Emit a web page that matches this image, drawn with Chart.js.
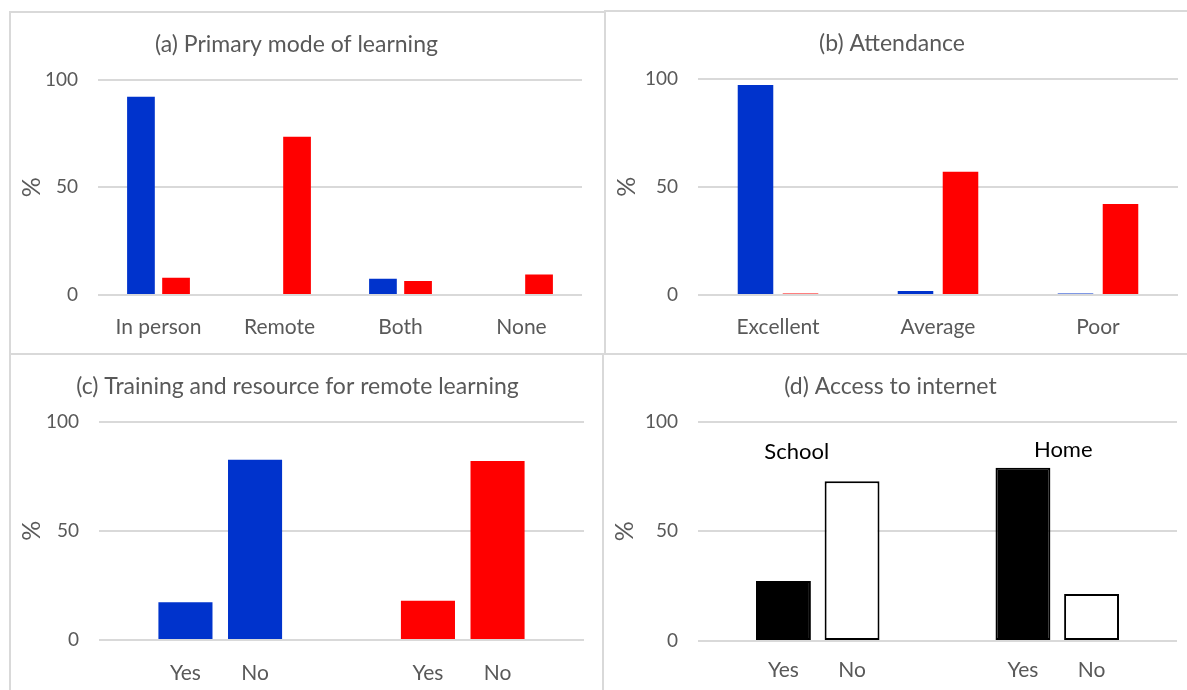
<!DOCTYPE html>
<html>
<head>
<meta charset="utf-8">
<script src="https://cdn.jsdelivr.net/npm/chart.js"></script>
<style>
  html, body { margin: 0; padding: 0; background: #ffffff; }
  body { width: 1187px; height: 690px; overflow: hidden; position: relative; }
  .panel { position: absolute; border-left: 2px solid #d9d9d9; border-top: 2px solid #d9d9d9; }
  .panel canvas { display: block; }
</style>
</head>
<body>
<div class="panel" style="left:9px; top:11px;"><canvas id="chartA" width="594" height="340"></canvas></div>
<div class="panel" style="left:604px; top:10px;"><canvas id="chartB" width="594" height="341"></canvas></div>
<div class="panel" style="left:9px; top:353px;"><canvas id="chartC" width="592" height="335"></canvas></div>
<div class="panel" style="left:602px; top:353px;"><canvas id="chartD" width="596" height="335"></canvas></div>

<script>
'use strict';

// ********** DATA **********

const yTicks = [0, 50, 100];

// (a) primary mode of learning
const modeLabels = ['In person', 'Remote', 'Both', 'None'];
const modeBlue = [92, 0, 7.5, 0];
const modeRed = [8, 73.5, 6.5, 9.5];

// (b) attendance
const attendLabels = ['Excellent', 'Average', 'Poor'];
const attendBlue = [97, 1.8, 0.7];
const attendRed = [0.7, 57, 42];

// (c) training and resource for remote learning (blue group, red group)
const answerLabels = ['Yes', 'No'];
const trainingGroups = ['Blue', 'Red'];
const trainingYes = [17.3, 18];
const trainingNo = [82.5, 82];

// (d) access to internet
const internetGroups = ['School', 'Home'];
const internetYes = [27.4, 79];
const internetNo = [72.8, 21.4];

// ********** STYLE **********

const FONT = 'Lato, "Open Sans", sans-serif';
const GREY = '#595959';
const GRID = '#d9d9d9';
const BLUE = '#0033cc';
const RED = '#ff0000';

Chart.defaults.font.family = FONT;
Chart.defaults.color = GREY;

// ********** PLUGINS **********

// Yes / No under every bar, taken from the dataset label
const barLabelPlugin = {
  id: 'barLabels',
  afterDraw(chart, args, opts) {
    if (!opts.show) return;
    const ctx = chart.ctx;
    ctx.save();
    ctx.font = `${opts.size}px ${FONT}`;
    ctx.fillStyle = GREY;
    ctx.textAlign = 'center';
    ctx.textBaseline = 'middle';
    chart.data.datasets.forEach((ds, di) => {
      chart.getDatasetMeta(di).data.forEach(bar => {
        ctx.fillText(ds.label, bar.x, chart.chartArea.bottom + opts.offset);
      });
    });
    ctx.restore();
  }
};

// School / Home above the groups
const groupLabelPlugin = {
  id: 'groupLabels',
  afterDraw(chart, args, opts) {
    if (!opts.show) return;
    const ctx = chart.ctx;
    const xs = chart.scales.x;
    const ys = chart.scales.y;
    ctx.save();
    ctx.font = `${opts.size}px ${FONT}`;
    ctx.fillStyle = '#000000';
    ctx.textAlign = 'center';
    ctx.textBaseline = 'middle';
    chart.data.labels.forEach((lab, i) => {
      ctx.fillText(lab, xs.getPixelForValue(i) + opts.shift[i], ys.getPixelForValue(opts.level[i]));
    });
    ctx.restore();
  }
};

// ********** HELPER FUNCTIONS **********

function makeChart(id, title, labels, datasets, box, extra) {
  extra = extra || {};
  return new Chart(document.getElementById(id), {
    type: 'bar',
    data: {labels: labels, datasets: datasets},
    plugins: [barLabelPlugin, groupLabelPlugin],
    options: {
      responsive: false,
      animation: false,
      devicePixelRatio: 1,
      events: [],
      layout: {padding: {left: 0, right: box.right, top: 0, bottom: 0}},
      datasets: {bar: {categoryPercentage: box.cat, barPercentage: box.bar}},
      plugins: {
        legend: {display: false},
        tooltip: {enabled: false},
        title: {
          display: true,
          text: title,
          color: GREY,
          font: {size: 23, weight: 'normal'},
          padding: {top: 18, bottom: 21}
        },
        barLabels: extra.barLabels || {show: false},
        groupLabels: extra.groupLabels || {show: false}
      },
      scales: {
        x: {
          grid: {display: false},
          border: {display: false},
          ticks: {display: extra.xTicks !== false, color: GREY, font: {size: 21}, padding: 12},
          afterFit: s => { s.height = box.xh; }
        },
        y: {
          min: 0,
          max: 100,
          afterBuildTicks: s => { s.ticks = yTicks.map(v => ({value: v})); },
          grid: {color: GRID, lineWidth: 2, drawTicks: false},
          border: {display: false},
          ticks: {color: GREY, font: {size: 19}, padding: 20},
          title: {display: true, text: '%', color: GREY, font: {size: 25}, padding: {top: 6, bottom: 0}},
          afterFit: s => { s.width = box.left; }
        }
      }
    }
  });
}

// ********** EXECUTABLE **********

makeChart('chartA', '(a) Primary mode of learning', modeLabels, [
  {label: 'Blue', data: modeBlue, backgroundColor: BLUE},
  {label: 'Red', data: modeRed, backgroundColor: RED}
], {left: 87, right: 23, xh: 58, cat: 0.58, bar: 0.79});

makeChart('chartB', '(b) Attendance', attendLabels, [
  {label: 'Blue', data: attendBlue, backgroundColor: BLUE},
  {label: 'Red', data: attendRed, backgroundColor: RED}
], {left: 92, right: 22, xh: 58, cat: 0.5625, bar: 0.79});

makeChart('chartC', '(c) Training and resource for remote learning', trainingGroups, [
  {label: answerLabels[0], data: trainingYes, backgroundColor: [BLUE, RED]},
  {label: answerLabels[1], data: trainingNo, backgroundColor: [BLUE, RED]}
], {left: 88, right: 19, xh: 50, cat: 0.574, bar: 0.777},
{xTicks: false, barLabels: {show: true, size: 21, offset: 33}});

makeChart('chartD', '(d) Access to internet', internetGroups, [
  {label: answerLabels[0], data: internetYes, backgroundColor: '#000000',
    borderColor: '#000000', borderWidth: 2, borderSkipped: false},
  {label: answerLabels[1], data: internetNo, backgroundColor: '#ffffff',
    borderColor: '#000000', borderWidth: 2, borderSkipped: false}
], {left: 94, right: 23, xh: 49, cat: 0.573, bar: 0.80},
{xTicks: false, barLabels: {show: true, size: 21, offset: 29},
  groupLabels: {show: true, size: 22, level: [86, 87], shift: [-21, 6]}});
</script>
</body>
</html>
